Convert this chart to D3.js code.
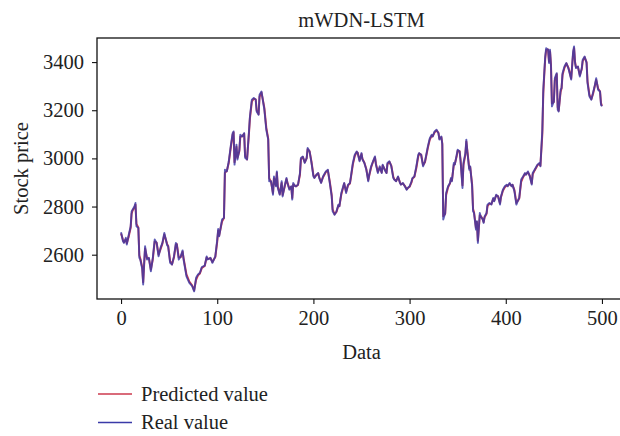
<!DOCTYPE html>
<html><head><meta charset="utf-8">
<script src="https://cdn.jsdelivr.net/npm/d3@7"></script>
<style>body{margin:0;background:#fff}svg{display:block}text{font-family:"Liberation Serif","Times New Roman",serif;fill:#222}</style>
</head><body><svg id="c" width="620" height="436"></svg>
<script>
const title = "mWDN-LSTM";
const xTicks = [0,100,200,300,400,500];
const yTicks = [2600,2800,3000,3200,3400];
const seriesNames = ["Predicted value","Real value"];
const days = [0,2,3,5,6,8,10,11,12,14,15,16,18,19,20,22,23,24,25,27,29,31,33,35,37,39,41,43,45,48,49,51,53,55,57,58,60,62,64,65,68,71,74,76,78,80,82,84,87,89,90,93,95,98,100,101,102,105,107,108,110,112,114,116,117,118,120,121,123,124,126,128,129,131,133,134,136,138,140,141,143,144,146,149,151,153,154,
156,158,159,161,162,163,165,167,168,170,172,173,175,177,178,179,181,182,184,186,187,189,191,193,194,196,198,200,201,203,205,206,208,210,212,213,215,217,219,220,222,224,226,227,229,231,232,234,236,238,239,241,243,245,246,248,250,251,253,255,257,258,260,262,264,265,267,269,271,272,274,276,277,279,281,283,284,286,288,290,291,293,295,297,298,300,302,303,305,307,309,
310,312,314,316,317,319,321,323,324,326,328,330,331,333,334,335,337,338,340,342,343,344,346,347,349,350,352,353,355,356,358,359,360,362,363,365,366,367,369,370,371,373,374,376,377,378,380,381,383,385,387,388,390,392,394,395,397,399,401,402,404,406,407,409,411,413,414,416,418,420,421,423,425,427,428,430,432,433,435,436,438,439,440,441,442,444,445,446,447,448,450,451,453,454,455,457,458,459,461,463,465,466,468,470,471,472,473,475,477,479,480,482,484,485,487,489,491,492,494,496,498,499,500];
const realValue = [2693,2656,2649,2670,2642,2683,2718,2780,2787,2801,2815,2718,2711,2587,2580,2541,2476,2566,2635,2580,2587,2531,2587,2663,2649,2593,2628,2649,2690,2638,2635,2566,2559,2593,2649,2642,2580,2593,2618,2580,2510,2483,2469,2448,2504,2518,2525,2549,2555,2593,2580,2587,2566,2593,2663,2707,2676,2746,2753,2953,2946,2988,3050,3105,3112,2974,3057,2995,3036,3098,3091,3105,3002,2995,3112,3174,3244,3251,3244,3195,3181,3264,3278,3202,3119,3078,2905,
2905,2849,2925,2884,2946,2877,2849,2905,2842,2884,2919,2898,2870,2884,2829,2898,2884,2884,2891,2939,3002,3008,2981,3002,3043,3029,2981,2925,2919,2932,2939,2919,2898,2925,2939,2946,2953,2898,2842,2780,2766,2780,2808,2801,2856,2884,2898,2856,2891,2898,2925,2981,3015,3029,3022,2988,3022,2995,2981,2953,2905,2932,2967,2988,3008,2974,2939,2967,2939,2974,2953,2939,2981,2988,2967,2919,2912,2905,2925,2898,2891,2898,2884,2870,2877,2884,2905,2919,2925,2967,3015,
3022,3015,2967,2988,3008,3050,3084,3098,3091,3112,3119,3105,3078,3091,3057,2746,2773,2856,2884,2898,2919,2905,2981,2974,3015,3036,3029,2988,2877,2981,3022,3078,3029,2953,2967,2884,2780,2773,2704,2739,2649,2773,2759,2746,2732,2759,2773,2808,2815,2808,2836,2822,2849,2842,2808,2842,2870,2884,2891,2884,2898,2884,2891,2863,2808,2829,2836,2912,2925,2939,2932,2946,2925,2891,2939,2953,2967,2974,2981,2967,3119,3285,3354,3423,3458,3451,3396,3451,3382,3216,3237,3333,3354,3202,3195,3285,3292,3354,3382,3396,3375,3361,3327,3444,3465,3396,3375,3382,3340,3375,3410,3423,3396,3313,3257,3244,3278,3292,3333,3285,3278,3223,3216];
const predictedValue = [2688,2662,2652,2664,2648,2676,2712,2770,2784,2796,2808,2728,2712,2598,2584,2548,2486,2556,2626,2586,2584,2538,2580,2655,2650,2600,2622,2646,2684,2644,2636,2574,2560,2588,2642,2644,2588,2590,2612,2586,2518,2488,2472,2452,2496,2514,2522,2545,2553,2588,2582,2585,2570,2590,2654,2700,2680,2738,2752,2940,2948,2982,3042,3098,3108,2984,3048,3002,3030,3090,3092,3102,3010,2996,3104,3166,3236,3248,3245,3200,3184,3256,3274,3210,3128,3082,2918,
2902,2856,2918,2888,2940,2882,2852,2898,2848,2880,2914,2900,2874,2882,2836,2892,2886,2884,2890,2932,2996,3006,2984,3000,3038,3030,2986,2930,2920,2930,2938,2922,2900,2922,2936,2944,2950,2904,2848,2788,2768,2778,2804,2802,2850,2880,2896,2862,2888,2896,2920,2974,3010,3026,3024,2992,3018,2998,2982,2956,2910,2928,2962,2986,3004,2978,2944,2962,2942,2970,2956,2940,2976,2986,2970,2924,2914,2906,2922,2900,2892,2896,2886,2872,2876,2882,2900,2916,2924,2960,3008,
3020,3016,2972,2984,3004,3044,3078,3094,3092,3108,3116,3106,3082,3088,3062,2760,2770,2848,2880,2896,2914,2908,2974,2976,3010,3032,3030,2994,2888,2972,3016,3070,3034,2960,2964,2892,2790,2776,2712,2736,2658,2764,2760,2748,2736,2756,2770,2802,2812,2810,2832,2824,2846,2843,2814,2838,2866,2880,2888,2886,2894,2886,2890,2868,2815,2826,2834,2902,2922,2936,2934,2942,2928,2896,2934,2950,2964,2972,2978,2970,3100,3270,3346,3414,3450,3452,3402,3444,3390,3228,3234,3324,3350,3212,3198,3276,3290,3346,3376,3394,3378,3364,3332,3434,3458,3402,3378,3380,3346,3370,3404,3420,3400,3320,3264,3246,3272,3290,3326,3290,3278,3230,3218];

const svg = d3.select("#c");
const L = 97, R = 626, T = 38, B = 299;
const x = d3.scaleLinear().domain([-25, 525]).range([L, R]);
const y = d3.scaleLinear().domain([2416, 3500]).range([B, T]);
const fs = 20.5;

// lines
const pts = (vals) => days.map((d, i) => [d, vals[i]]);
const line = d3.line().x(d => x(d[0])).y(d => y(d[1]));
svg.append("path").attr("d", line(pts(predictedValue))).attr("fill","none")
  .attr("stroke","#cc3a4e").attr("stroke-width",2).attr("stroke-linejoin","round");
svg.append("path").attr("d", line(pts(realValue))).attr("fill","none")
  .attr("stroke","#3a3aa8").attr("stroke-width",1.9).attr("stroke-opacity",0.8).attr("stroke-linejoin","round");

// frame
svg.append("rect").attr("x",L).attr("y",T).attr("width",R-L).attr("height",B-T)
  .attr("fill","none").attr("stroke","#111").attr("stroke-width",1.3);

// axes
const xa = svg.append("g").attr("transform",`translate(0,${B})`)
  .call(d3.axisBottom(x).tickValues(xTicks).tickSize(5).tickPadding(6).tickFormat(d3.format("d")));
const ya = svg.append("g").attr("transform",`translate(${L},0)`)
  .call(d3.axisLeft(y).tickValues(yTicks).tickSize(5).tickPadding(8).tickFormat(d3.format("d")));
[xa, ya].forEach(g => {
  g.select(".domain").remove();
  g.selectAll(".tick line").attr("stroke","#111").attr("stroke-width",1.1);
  g.selectAll(".tick text").attr("font-size",fs).attr("font-family",'"Liberation Serif",serif').attr("fill","#222");
});

// title and labels
svg.append("text").attr("x",(L+R)/2).attr("y",27).attr("text-anchor","middle").attr("font-size",fs).text(title);
svg.append("text").attr("x",(L+R)/2).attr("y",359).attr("text-anchor","middle").attr("font-size",fs).text("Data");
svg.append("text").attr("transform",`translate(28,${(T+B)/2}) rotate(-90)`).attr("text-anchor","middle").attr("font-size",fs).text("Stock price");

// legend
const legColors = ["#cc3a4e","#3a3aa8"];
seriesNames.forEach((n, i) => {
  const yy = 394 + i*28.5;
  svg.append("line").attr("x1",98).attr("x2",132).attr("y1",yy).attr("y2",yy)
    .attr("stroke",legColors[i]).attr("stroke-width",1.5);
  svg.append("text").attr("x",141).attr("y",yy+6.5).attr("font-size",fs).text(n);
});
</script></body></html>
